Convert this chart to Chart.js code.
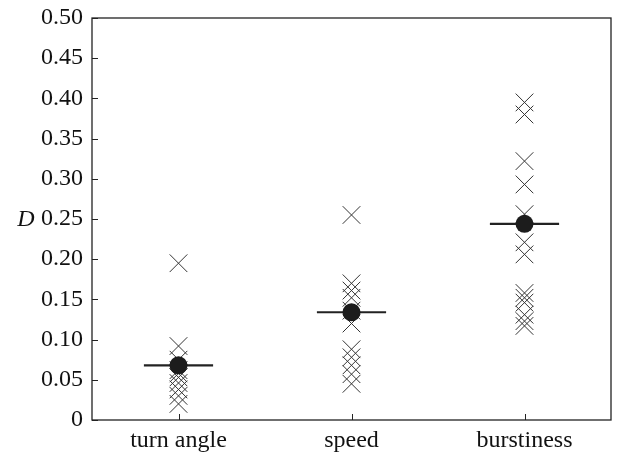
<!DOCTYPE html>
<html>
<head>
<meta charset="utf-8">
<script src="https://cdn.jsdelivr.net/npm/chart.js@4/dist/chart.umd.min.js"></script>
<style>
  html, body { margin: 0; padding: 0; background: #fff; }
  #wrap { width: 625px; height: 452px; position: relative; }
</style>
</head>
<body>
<div id="wrap"><canvas id="c" width="625" height="452"></canvas></div>
<script>
const categories = ['turn angle', 'speed', 'burstiness'];
const turnAngleD = [0.195, 0.092, 0.075, 0.062, 0.058, 0.053, 0.046, 0.038, 0.030, 0.020];
const speedD = [0.255, 0.170, 0.161, 0.152, 0.136, 0.120, 0.088, 0.078, 0.068, 0.057, 0.045];
const burstinessD = [0.395, 0.380, 0.322, 0.293, 0.256, 0.221, 0.206, 0.158, 0.152, 0.146, 0.131, 0.123, 0.117];
const meanD = [0.068, 0.134, 0.244];
const medianD = [0.068, 0.134, 0.244];
const yTicks = [0, 0.05, 0.10, 0.15, 0.20, 0.25, 0.30, 0.35, 0.40, 0.45, 0.50];
const yAxisLabel = 'D';

const seriesList = [turnAngleD, speedD, burstinessD];
const crossPoints = [];
seriesList.forEach((arr, i) => arr.forEach(v => crossPoints.push({ x: i + 1, y: v })));
const meanPoints = meanD.map((v, i) => ({ x: i + 1, y: v }));
const HALF = 0.2;

const ink = '#222';
const serif = "'Liberation Serif', 'DejaVu Serif', serif";

const medianSets = medianD.map((v, i) => ({
  type: 'line',
  data: [{ x: i + 1 - HALF, y: v }, { x: i + 1 + HALF, y: v }],
  borderColor: ink,
  borderWidth: 2.2,
  pointRadius: 0,
  fill: false,
  order: 2
}));

const framePlugin = {
  id: 'frame',
  afterDraw(chart) {
    const ctx = chart.ctx, ca = chart.chartArea;
    const xs = chart.scales.x, ys = chart.scales.y;
    ctx.save();
    ctx.strokeStyle = ink;
    ctx.lineWidth = 1.3;
    ctx.strokeRect(ca.left, ca.top, ca.right - ca.left, ca.bottom - ca.top);
    ctx.lineWidth = 1;
    ctx.beginPath();
    yTicks.forEach(t => {
      const py = Math.round(ys.getPixelForValue(t)) + 0.5;
      ctx.moveTo(ca.left, py); ctx.lineTo(ca.left + 6, py);
    });
    categories.forEach((c, i) => {
      const px = Math.round(xs.getPixelForValue(i + 1)) + 0.5;
      ctx.moveTo(px, ca.bottom); ctx.lineTo(px, ca.bottom - 6);
    });
    ctx.stroke();
    ctx.fillStyle = '#111';
    ctx.font = "italic 24px " + serif;
    ctx.textAlign = 'center';
    ctx.textBaseline = 'middle';
    ctx.fillText(yAxisLabel, 26, ys.getPixelForValue(0.25) + 1);
    ctx.restore();
  }
};

new Chart(document.getElementById('c'), {
  type: 'scatter',
  data: {
    datasets: [
      {
        data: meanPoints,
        pointStyle: 'circle',
        pointRadius: 9,
        pointBackgroundColor: '#1c1c1c',
        pointBorderWidth: 0,
        showLine: false,
        order: 1
      },
      ...medianSets,
      {
        data: crossPoints,
        pointStyle: 'crossRot',
        pointRadius: 12.5,
        pointBorderColor: '#333',
        pointBorderWidth: 1,
        showLine: false,
        order: 3
      }
    ]
  },
  options: {
    responsive: false,
    animation: false,
    events: [],
    layout: { padding: { left: 0, right: 14, top: 18, bottom: 0 } },
    plugins: { legend: { display: false }, tooltip: { enabled: false } },
    scales: {
      x: {
        type: 'linear',
        min: 0.5,
        max: 3.5,
        grid: { display: false, drawTicks: false },
        border: { display: false },
        afterBuildTicks(scale) { scale.ticks = categories.map((c, i) => ({ value: i + 1 })); },
        afterFit(scale) { scale.height = 32; scale.paddingLeft = 0; scale.paddingRight = 0; },
        ticks: {
          color: '#111',
          padding: 6,
          maxRotation: 0,
          font: { family: serif, size: 24 },
          callback: (v) => categories[Math.round(v) - 1] || ''
        }
      },
      y: {
        type: 'linear',
        min: 0,
        max: 0.5,
        grid: { display: false, drawTicks: false },
        border: { display: false },
        afterBuildTicks(scale) { scale.ticks = yTicks.map(v => ({ value: v })); },
        afterFit(scale) { scale.width = 92; scale.paddingTop = 0; scale.paddingBottom = 0; },
        ticks: {
          color: '#111',
          padding: 9,
          font: { family: serif, size: 24 },
          callback: (v) => v === 0 ? '0' : v.toFixed(2)
        }
      }
    }
  },
  plugins: [framePlugin]
});
</script>
</body>
</html>
